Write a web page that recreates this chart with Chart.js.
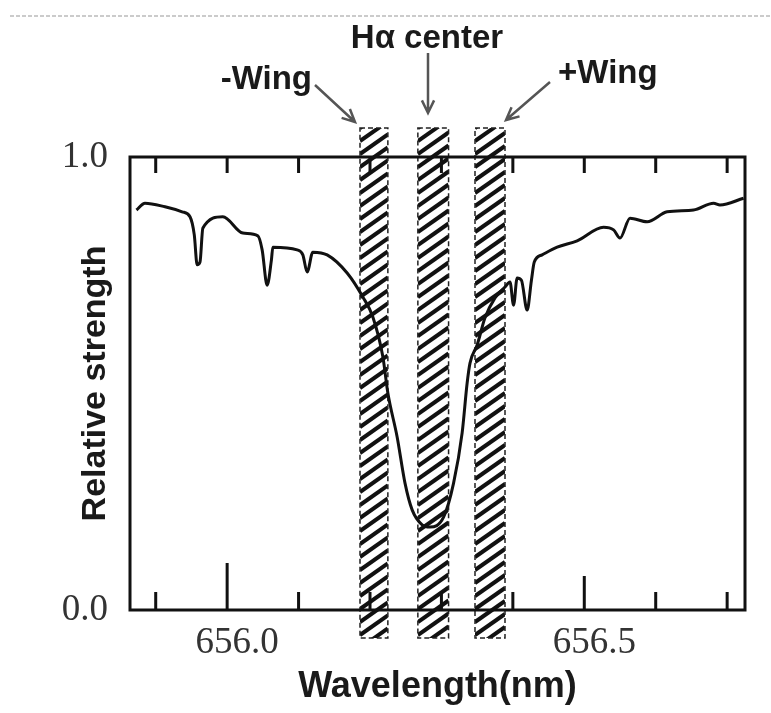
<!DOCTYPE html>
<html>
<head>
<meta charset="utf-8">
<script src="https://cdn.jsdelivr.net/npm/chart.js@4"></script>
<style>
  body { margin: 0; background: #fff; }
  canvas { display: block; }
</style>
</head>
<body>
<canvas id="spectrumChart" width="771" height="713"></canvas>
<script>
// H-alpha line profile
const wavelength = [
    655.873, 655.885, 655.913, 655.937, 655.948, 655.954, 655.958, 655.962, 655.966, 655.994,
    656.022, 656.043, 656.049, 656.056, 656.062, 656.064, 656.098, 656.106, 656.112, 656.120,
    656.140, 656.168, 656.190, 656.204, 656.218, 656.225, 656.238, 656.249, 656.259, 656.273,
    656.284, 656.303, 656.317, 656.329, 656.336, 656.340, 656.350, 656.361, 656.375, 656.389,
    656.396, 656.401, 656.406, 656.412, 656.420, 656.426, 656.430, 656.441, 656.462, 656.490,
    656.527, 656.541, 656.550, 656.564, 656.588, 656.616, 656.653, 656.681, 656.690, 656.723
];
const strength = [
    0.883, 0.898, 0.890, 0.879, 0.868, 0.828, 0.762, 0.768, 0.843, 0.868,
    0.832, 0.826, 0.795, 0.717, 0.773, 0.801, 0.795, 0.784, 0.746, 0.790,
    0.784, 0.744, 0.691, 0.647, 0.559, 0.479, 0.382, 0.280, 0.221, 0.188,
    0.183, 0.205, 0.280, 0.391, 0.501, 0.545, 0.585, 0.645, 0.689, 0.713,
    0.724, 0.673, 0.733, 0.728, 0.662, 0.728, 0.768, 0.784, 0.801, 0.815,
    0.845, 0.839, 0.821, 0.865, 0.857, 0.879, 0.883, 0.898, 0.894, 0.909
];

const xTicks = [655.9, 656.0, 656.1, 656.2, 656.3, 656.4, 656.5, 656.6, 656.7];
const xLabelled = [656.0, 656.5];
const yTicks = [0, 1];

const bandLabels = ['-Wing', 'Hα center', '+Wing'];
const bandStart = [656.186, 656.267, 656.347];
const bandEnd = [656.225, 656.310, 656.389];

function hatch(ctx, x0, x1, y0, y1) {
    ctx.save();
    ctx.beginPath();
    ctx.rect(x0, y0, x1 - x0, y1 - y0);
    ctx.clip();
    ctx.fillStyle = '#fff';
    ctx.fillRect(x0, y0, x1 - x0, y1 - y0);
    ctx.strokeStyle = '#111';
    ctx.lineWidth = 4;
    const rise = (x1 - x0) * 0.7;
    for (let y = y0 - rise; y < y1 + rise; y += 13) {
        ctx.beginPath();
        ctx.moveTo(x0, y + rise);
        ctx.lineTo(x1, y);
        ctx.stroke();
    }
    ctx.restore();
    ctx.save();
    ctx.strokeStyle = '#222';
    ctx.lineWidth = 1.5;
    ctx.setLineDash([5, 3]);
    ctx.strokeRect(x0, y0, x1 - x0, y1 - y0);
    ctx.restore();
}

function arrow(ctx, x0, y0, x1, y1) {
    const a = Math.atan2(y1 - y0, x1 - x0);
    const L = 14;
    ctx.beginPath();
    ctx.moveTo(x0, y0);
    ctx.lineTo(x1, y1);
    ctx.moveTo(x1 - L * Math.cos(a - 0.45), y1 - L * Math.sin(a - 0.45));
    ctx.lineTo(x1, y1);
    ctx.lineTo(x1 - L * Math.cos(a + 0.45), y1 - L * Math.sin(a + 0.45));
    ctx.stroke();
}

const bandsPlugin = {
    id: 'bands',
    beforeDatasetsDraw(chart) {
        const ctx = chart.ctx;
        const x = chart.scales.x;
        const area = chart.chartArea;
        for (let i = 0; i < bandStart.length; i++) {
            hatch(ctx, x.getPixelForValue(bandStart[i]), x.getPixelForValue(bandEnd[i]),
                area.top - 29, area.bottom + 28);
        }
    },
    afterDraw(chart) {
        const ctx = chart.ctx;
        const x = chart.scales.x;
        const area = chart.chartArea;
        ctx.save();

        // frame
        ctx.strokeStyle = '#111';
        ctx.lineWidth = 3;
        ctx.strokeRect(area.left, area.top, area.right - area.left, area.bottom - area.top);

        // inner tick marks, top and bottom
        xTicks.forEach(v => {
            const px = x.getPixelForValue(v);
            const major = xLabelled.indexOf(v);
            const len = major === 0 ? 47 : major === 1 ? 34 : 18;
            ctx.beginPath();
            ctx.moveTo(px, area.bottom);
            ctx.lineTo(px, area.bottom - len);
            ctx.moveTo(px, area.top);
            ctx.lineTo(px, area.top + 16);
            ctx.stroke();
        });

        // page rule at the top
        ctx.strokeStyle = '#bbb';
        ctx.lineWidth = 1.5;
        ctx.setLineDash([4, 2]);
        ctx.beginPath();
        ctx.moveTo(10, 16);
        ctx.lineTo(771, 16);
        ctx.stroke();
        ctx.setLineDash([]);

        // arrows
        ctx.strokeStyle = '#555';
        ctx.lineWidth = 2.5;
        arrow(ctx, 315, 85, 355, 122);
        arrow(ctx, 428, 53, 428, 113);
        arrow(ctx, 550, 82, 506, 120);

        // labels
        ctx.fillStyle = '#1a1a1a';
        ctx.font = 'bold 33px "Liberation Sans", Arial, sans-serif';
        ctx.textBaseline = 'alphabetic';
        ctx.textAlign = 'right';
        ctx.fillText(bandLabels[0], 312, 89);
        ctx.textAlign = 'center';
        ctx.fillText(bandLabels[1], 427, 48);
        ctx.textAlign = 'left';
        ctx.fillText(bandLabels[2], 558, 83);
        ctx.restore();
    }
};

const ctx = document.getElementById('spectrumChart').getContext('2d');
new Chart(ctx, {
    type: 'line',
    data: {
        datasets: [{
            data: wavelength.map((w, i) => ({ x: w, y: strength[i] })),
            borderColor: '#111',
            borderWidth: 3,
            pointRadius: 0,
            fill: false,
            cubicInterpolationMode: 'monotone'
        }]
    },
    options: {
        responsive: false,
        animation: false,
        layout: {
            padding: { top: 157, right: 26, bottom: 0, left: 0 }
        },
        plugins: {
            legend: { display: false },
            tooltip: { enabled: false }
        },
        scales: {
            x: {
                type: 'linear',
                min: 655.864,
                max: 656.725,
                afterBuildTicks: scale => {
                    scale.ticks = xTicks.map(v => ({ value: v }));
                },
                afterFit: scale => { scale.height = 103; },
                grid: { display: false },
                border: { display: false },
                ticks: {
                    autoSkip: false,
                    maxRotation: 0,
                    padding: 3,
                    labelOffset: 10,
                    color: '#333',
                    font: { family: '"Liberation Serif", "Times New Roman", serif', size: 37 },
                    callback: value => xLabelled.includes(value) ? value.toFixed(1) : ''
                },
                title: {
                    display: true,
                    text: 'Wavelength(nm)',
                    color: '#1a1a1a',
                    padding: { top: 0, bottom: 4 },
                    font: { family: '"Liberation Sans", Arial, sans-serif', size: 36, weight: 'bold' }
                }
            },
            y: {
                min: 0,
                max: 1,
                afterBuildTicks: scale => {
                    scale.ticks = yTicks.map(v => ({ value: v }));
                },
                afterFit: scale => { scale.width = 130; },
                grid: { display: false },
                border: { display: false },
                ticks: {
                    padding: 14,
                    color: '#333',
                    font: { family: '"Liberation Serif", "Times New Roman", serif', size: 37 },
                    callback: value => value.toFixed(1)
                },
                title: {
                    display: true,
                    text: 'Relative strength',
                    color: '#1a1a1a',
                    padding: { top: 75, bottom: 0 },
                    font: { family: '"Liberation Sans", Arial, sans-serif', size: 34, weight: 'bold' }
                }
            }
        }
    },
    plugins: [bandsPlugin]
});
</script>
</body>
</html>
